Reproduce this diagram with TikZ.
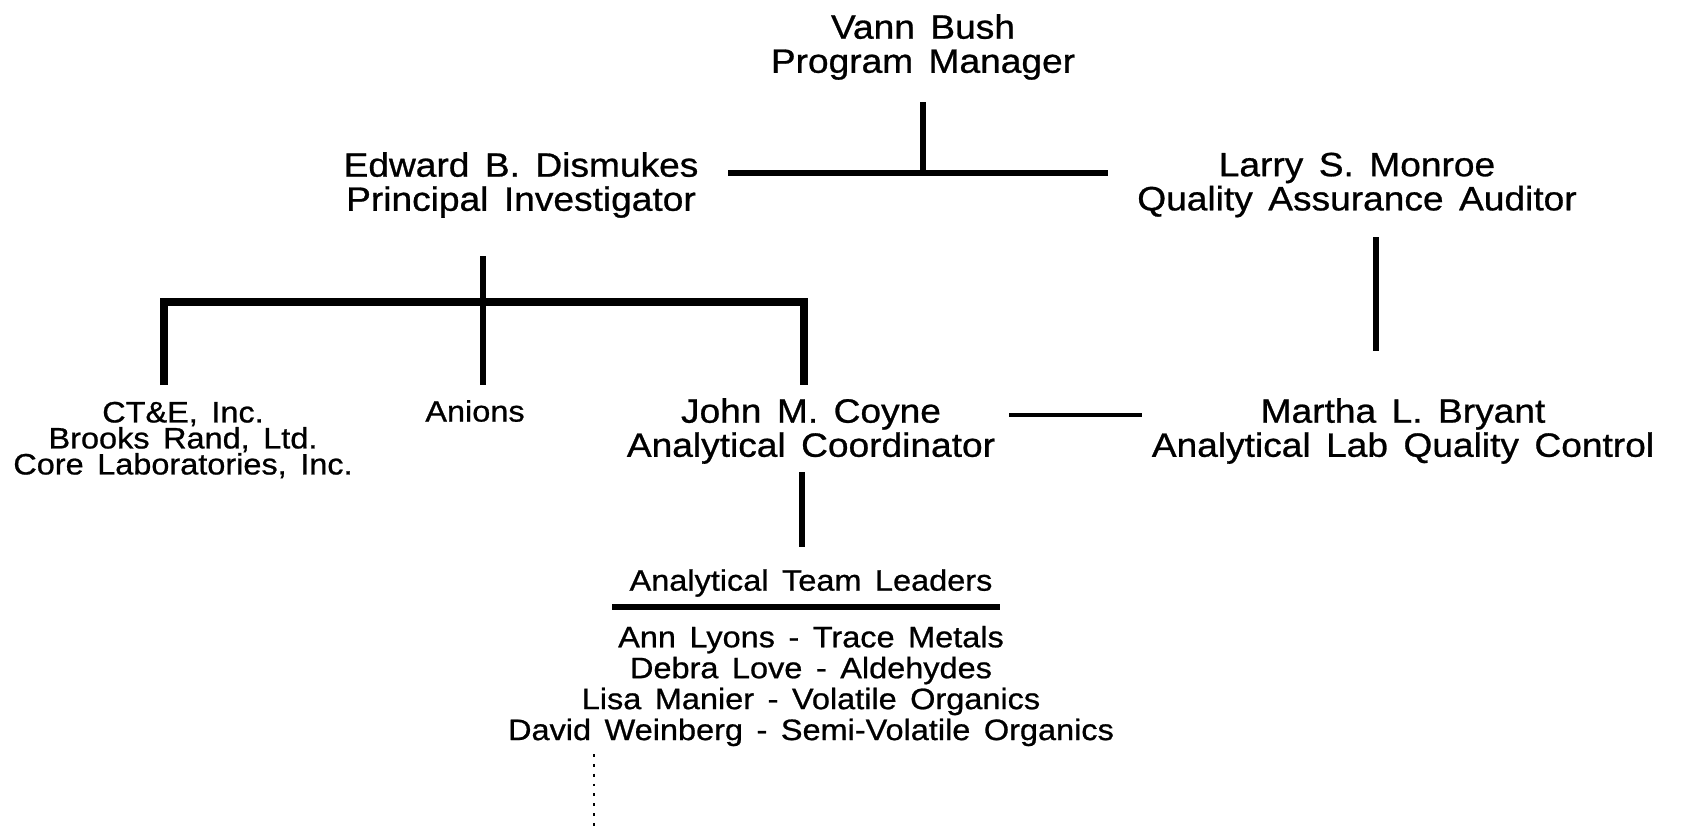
\documentclass[tikz,border=0pt]{standalone}
\usepackage{fontspec}
\setmainfont{Liberation Sans}[FakeStretch=1.1,WordSpace=1.5,FakeBold=0.8]
\usetikzlibrary{positioning}

\tikzset{
  person/.style={align=center,inner sep=0pt,font=\fontsize{9.6}{9.7}\selectfont},
  firms/.style={align=center,inner sep=0pt,font=\fontsize{8.4}{7.4}\selectfont},
  team/.style={align=center,inner sep=0pt,font=\fontsize{8.4}{8.8}\selectfont},
  orgline/.style={line width=1.5pt},
  barline/.style={line width=2pt},
  thinline/.style={line width=0.9pt}
}

\begin{document}
\begin{tikzpicture}[node distance=1cm,on grid]
\useasboundingbox (0,0) rectangle (16.92,-8.34);
% Here is where we put each person and where
% they sit in relation to the others
   \node[person] (vann) at (9.23,-0.47) {Vann Bush\\Program Manager};
   \node[person] (edward) [below left=1.38cm and 4.02cm of vann] {Edward B. Dismukes\\Principal Investigator};
   \node[person] (larry) [below right=1.38cm and 4.34cm of vann] {Larry S. Monroe\\Quality Assurance Auditor};
   \node[firms] (ctae) [below left=2.55cm and 3.38cm of edward] {CT\&E, Inc.\\Brooks Rand, Ltd.\\Core Laboratories, Inc.};
   \node[firms] (anions) [below left=2.26cm and 0.46cm of edward] {Anions};
   \node[person] (coyne) [below right=2.46cm and 2.90cm of edward] {John M. Coyne\\Analytical Coordinator};
   \node[person] (bryant) [right=5.92cm of coyne] {Martha L. Bryant\\Analytical Lab Quality Control};
   \node[team] (leaders) [below=1.52cm of coyne] {Analytical Team Leaders};
   \node[team] (members) [below=1.03cm of leaders] {Ann Lyons - Trace Metals\\Debra Love - Aldehydes\\Lisa Manier - Volatile Organics\\David Weinberg - Semi-Volatile Organics};
% Here is where we put the ends of the lines
   \coordinate[below=0.55cm of vann] (vannstem);
   \coordinate[below=1.26cm of vann] (topbar);
   \coordinate[left=1.95cm of topbar] (topbarL);
   \coordinate[right=1.85cm of topbar] (topbarR);
   \coordinate[below left=0.71cm and 0.38cm of edward] (edstem);
   \coordinate[below=0.46cm of edstem] (midbar);
   \coordinate[below=0.83cm of midbar] (anionstop);
   \coordinate[left=3.19cm of anionstop] (ctaetop);
   \coordinate[right=3.21cm of anionstop] (coynetop);
   \coordinate[below right=0.52cm and 0.19cm of larry] (larrystem);
   \coordinate[below=1.14cm of larrystem] (larryfoot);
   \coordinate[above right=0.16cm and 1.98cm of coyne] (coynelink);
   \coordinate[right=1.33cm of coynelink] (bryantlink);
   \coordinate[below left=0.41cm and 0.09cm of coyne] (coynestem);
   \coordinate[below=0.75cm of coynestem] (coynefoot);
   \coordinate[below left=0.24cm and 1.99cm of leaders] (ulL);
   \coordinate[right=3.88cm of ulL] (ulR);
   \coordinate[below left=0.68cm and 2.17cm of members] (dotstart);
   \coordinate[below=0.78cm of dotstart] (dotend);
% Here is where we draw the lines
   \draw[orgline] (vannstem) -- (topbar);
   \draw[orgline] (topbarL) -- (topbarR);
   \draw[orgline] (edstem) -- (anionstop);
   \draw[barline] (ctaetop) |- (midbar) -| (coynetop);
   \draw[orgline] (larrystem) -- (larryfoot);
   \draw[thinline] (coynelink) -- (bryantlink);
   \draw[orgline] (coynestem) -- (coynefoot);
   \draw[orgline] (ulL) -- (ulR);
   \draw[dotted,line width=0.8pt] (dotstart) -- (dotend);
\end{tikzpicture}
\end{document}
